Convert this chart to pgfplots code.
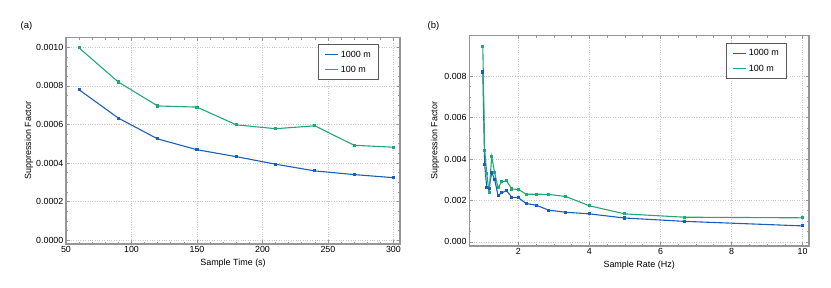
\documentclass[border=0pt]{standalone}
\usepackage{fontspec}
\setmainfont{Liberation Sans}
\usepackage{pgfplots}
\pgfplotsset{compat=1.18}
\definecolor{cblue}{RGB}{28,94,188}
\definecolor{cgreen}{RGB}{34,168,118}
\definecolor{framegray}{RGB}{150,150,150}
\definecolor{gridgray}{RGB}{200,200,200}
\pgfplotsset{
  mystyle/.style={
    scale only axis,
    anchor=south west,
    axis line style={framegray, line width=1.1bp},
    tick style={framegray, line width=0.6bp},
    major tick length=3.5bp,
    minor tick length=2bp,
    tick align=inside,
    grid=major,
    major grid style={gridgray, dotted, line width=0.6bp},
    /pgf/number format/assume math mode=true,
    tick label style={font=\fontsize{8.9}{10}\selectfont, text=black},
    label style={font=\fontsize{9}{10}\selectfont},
    yticklabel style={inner sep=0pt, xshift=-2.5bp},
    xticklabel style={inner sep=0pt, yshift=-2.5bp},
    scaled y ticks=false,
    legend style={draw={rgb,255:red,90;green,90;blue,90}, line width=0.9bp, fill=white,
      font=\fontsize{9}{10}\selectfont, anchor=north east,
      inner xsep=6bp, inner ysep=4bp, row sep=3.5bp,
      /tikz/every even column/.append style={column sep=0bp}},
    legend cell align=left,
    legend image code/.code={\draw[#1, mark=none, line width=1.2bp] (0bp,0bp) -- (13bp,0bp);},
    every axis plot/.append style={line width=1.1bp, mark=square*, mark size=1bp},
  }
}
\begin{document}
\begin{tikzpicture}
\useasboundingbox (0,0) rectangle (831bp,288bp);
\node[font=\fontsize{9.5}{11}\selectfont, anchor=center] at (26.5bp,261.5bp) {(a)};
\node[font=\fontsize{9.5}{11}\selectfont, anchor=center] at (433.5bp,262bp) {(b)};
\begin{axis}[mystyle,
  at={(66bp,44bp)}, width=334bp, height=206.3bp,
  xmin=50, xmax=305, ymin=-0.00002, ymax=0.00105,
  xtick={50,100,...,300}, minor x tick num=4,
  ytick={0,0.0002,...,0.00101}, minor y tick num=3,
  yticklabel style={/pgf/number format/.cd, fixed, fixed zerofill, precision=4},
  xlabel={Sample Time (s)}, ylabel={Suppression Factor},
  xlabel style={at={(axis description cs:0.5,-0.092)}, anchor=center},
  ylabel style={at={(axis description cs:-0.111,0.5)}, anchor=center, rotate=0},
  legend style={at={(axis description cs:0.938,0.968)}},
]
\addplot[cblue, mark options={fill=cblue}] coordinates {
(60,0.000780) (90,0.000633) (120,0.000525) (150,0.000469) (180,0.000433)
(210,0.000394) (240,0.000359) (270,0.000340) (300,0.000324)};
\addlegendentry{1000 m}
\addplot[cgreen, mark options={fill=cgreen}] coordinates {
(60,0.000997) (90,0.000820) (120,0.000696) (150,0.000690) (180,0.000598)
(210,0.000578) (240,0.000593) (270,0.000492) (300,0.000482)};
\addlegendentry{100 m}
\end{axis}
\begin{axis}[mystyle,
  at={(469.3bp,42bp)}, width=339.7bp, height=210.3bp,
  xmin=0.62, xmax=10.18, ymin=-0.0002, ymax=0.00995,
  xtick={2,4,...,10}, minor x tick num=3,
  ytick={0,0.002,...,0.0081}, minor y tick num=3,
  yticklabel style={/pgf/number format/.cd, fixed, fixed zerofill, precision=3},
  xlabel={Sample Rate (Hz)}, ylabel={Suppression Factor},
  xlabel style={at={(axis description cs:0.5,-0.09)}, anchor=center},
  ylabel style={at={(axis description cs:-0.101,0.5)}, anchor=center, rotate=0},
  legend style={at={(axis description cs:0.936,0.964)}},
]
\addplot[cblue, mark options={fill=cblue}] coordinates {
(1.000,0.00820) (1.053,0.00373) (1.111,0.00261) (1.176,0.00258) (1.250,0.00335)
(1.333,0.00302) (1.429,0.00224) (1.538,0.00237) (1.667,0.00247) (1.818,0.00215)
(2.000,0.00213) (2.222,0.00185) (2.500,0.00177) (2.857,0.00153) (3.333,0.00143)
(4.000,0.00135) (5.000,0.00115) (6.667,0.00099) (10.000,0.00077)};
\addlegendentry{1000 m}
\addplot[cgreen, mark options={fill=cgreen}] coordinates {
(1.000,0.00942) (1.053,0.00442) (1.111,0.00331) (1.176,0.00237) (1.250,0.00411)
(1.333,0.00334) (1.429,0.00261) (1.538,0.00290) (1.667,0.00294) (1.818,0.00255)
(2.000,0.00253) (2.222,0.00230) (2.500,0.00230) (2.857,0.00229) (3.333,0.00219)
(4.000,0.00174) (5.000,0.00135) (6.667,0.00119) (10.000,0.00116)};
\addlegendentry{100 m}
\end{axis}
\end{tikzpicture}
\end{document}
